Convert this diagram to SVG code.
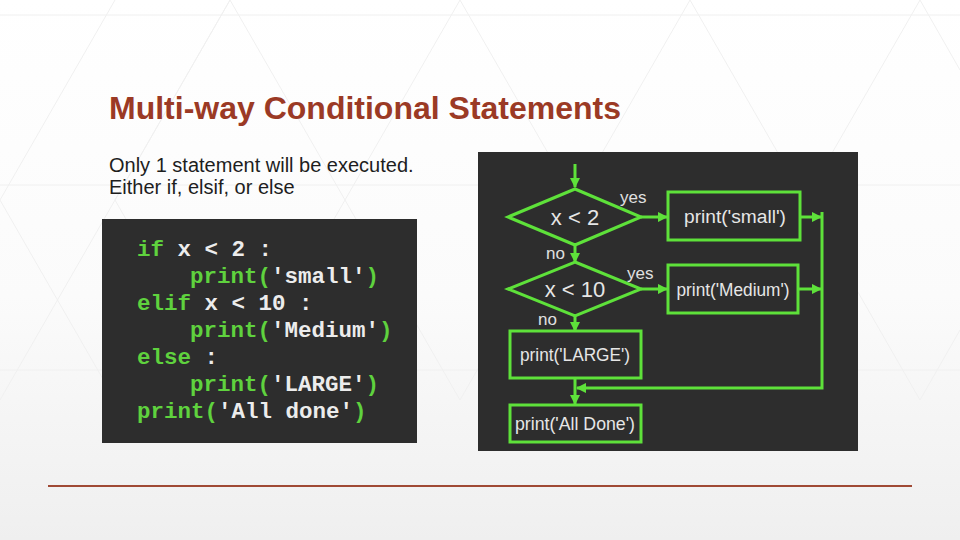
<svg xmlns="http://www.w3.org/2000/svg" width="960" height="540" viewBox="0 0 960 540">
<defs>
<linearGradient id="bg" x1="0" y1="0" x2="0" y2="1">
<stop offset="0" stop-color="#ffffff"/>
<stop offset="0.55" stop-color="#fbfbfb"/>
<stop offset="1" stop-color="#efefef"/>
</linearGradient>
<marker id="ah" viewBox="0 0 10 10" refX="9" refY="5" markerWidth="3.5" markerHeight="3.5" orient="auto" markerUnits="strokeWidth">
<path d="M0,0 L10,5 L0,10 z" fill="#5ee13a"/>
</marker>
<style>
.grid{stroke:#f0f0f0;stroke-width:1;fill:none}
.title{font-family:"Liberation Sans",Arial,sans-serif;font-weight:bold;font-size:32px;fill:#9b3a25}
.body{font-family:"Liberation Sans",Arial,sans-serif;font-size:20px;fill:#1e1e1e}
.panel{fill:#2d2d2d}
.code{font-family:"Liberation Mono","Courier New",monospace;font-weight:bold;font-size:22.5px;white-space:pre}
.kw{fill:#5fd23e}
.wt{fill:#ececec}
.shape{fill:none;stroke:#5ee13a;stroke-width:3}
.fl{font-family:"Liberation Sans",Arial,sans-serif;font-size:18px;fill:#e6e6e6;text-anchor:middle}
.big{font-size:22px}
.lab{font-family:"Liberation Sans",Arial,sans-serif;font-size:17px;fill:#e0e0e0}
.conn{stroke:#5ee13a;stroke-width:3;fill:none}
</style>
</defs>
<rect width="960" height="540" fill="url(#bg)"/>
<g class="grid">
<line x1="0" y1="15" x2="960" y2="15"/>
<line x1="0" y1="185" x2="960" y2="185"/>
<line x1="0" y1="370" x2="960" y2="370"/>
<line x1="0" y1="525" x2="960" y2="525"/>
<path d="M0,200 L115,0 M0,200 L115,400 M230,0 L0,400 M230,0 L345,200 L230,400 L115,200 L230,0 M460,0 L345,200 L460,400 L575,200 L460,0 M690,0 L575,200 L690,400 L805,200 L690,0 M920,0 L805,200 L920,400 L960,330 M960,70 L920,0"/>
</g>

<g id="title"><text class="title" x="109" y="119">Multi-way Conditional Statements</text></g>
<g id="subtitle">
<text class="body" x="109" y="172">Only 1 statement will be executed.</text>
<text class="body" x="109" y="194">Either if, elsif, or else</text>
</g>

<g id="code-panel">
<rect class="panel" x="102" y="219" width="315" height="224"/>
<text class="code" x="137" y="256"><tspan class="kw">if</tspan><tspan class="wt"> x &lt; 2 :</tspan></text>
<text class="code" x="190" y="283"><tspan class="kw">print(</tspan><tspan class="wt">'small'</tspan><tspan class="kw">)</tspan></text>
<text class="code" x="137" y="310"><tspan class="kw">elif</tspan><tspan class="wt"> x &lt; 10 :</tspan></text>
<text class="code" x="190" y="337"><tspan class="kw">print(</tspan><tspan class="wt">'Medium'</tspan><tspan class="kw">)</tspan></text>
<text class="code" x="137" y="364"><tspan class="kw">else</tspan><tspan class="wt"> :</tspan></text>
<text class="code" x="190" y="391"><tspan class="kw">print(</tspan><tspan class="wt">'LARGE'</tspan><tspan class="kw">)</tspan></text>
<text class="code" x="137" y="418"><tspan class="kw">print(</tspan><tspan class="wt">'All done'</tspan><tspan class="kw">)</tspan></text>
</g>

<g id="flow-panel"><rect class="panel" x="478" y="152" width="380" height="299"/></g>

<g id="connectors">
<line class="conn" x1="575" y1="164" x2="575" y2="187" marker-end="url(#ah)"/>
<line class="conn" x1="641" y1="217" x2="667" y2="217" marker-end="url(#ah)"/>
<line class="conn" x1="575" y1="245" x2="575" y2="262" marker-end="url(#ah)"/>
<line class="conn" x1="641" y1="289" x2="667" y2="289" marker-end="url(#ah)"/>
<line class="conn" x1="575" y1="316" x2="575" y2="331" marker-end="url(#ah)"/>
<line class="conn" x1="575" y1="378" x2="575" y2="404" marker-end="url(#ah)"/>
<line class="conn" x1="800" y1="217" x2="821" y2="217" marker-end="url(#ah)"/>
<line class="conn" x1="798" y1="289" x2="821" y2="289" marker-end="url(#ah)"/>
<polyline class="conn" points="822,212 822,388 577,388" marker-end="url(#ah)"/>
<text class="lab" x="620" y="203">yes</text>
<text class="lab" x="546" y="259">no</text>
<text class="lab" x="627" y="279">yes</text>
<text class="lab" x="538" y="325">no</text>
</g>

<g id="cond1">
<polygon class="shape" points="575,189 641,217 575,245 508,217"/>
<text class="fl big" x="575" y="225">x &lt; 2</text>
</g>
<g id="small">
<rect class="shape" x="668" y="192" width="132" height="48"/>
<text class="fl" x="735" y="223" textLength="102" lengthAdjust="spacingAndGlyphs">print('small')</text>
</g>
<g id="cond2">
<polygon class="shape" points="575,262 641,289 575,316 508,289"/>
<text class="fl big" x="575" y="297">x &lt; 10</text>
</g>
<g id="medium">
<rect class="shape" x="668" y="265" width="130" height="48"/>
<text class="fl" x="733" y="296" textLength="113" lengthAdjust="spacingAndGlyphs">print('Medium')</text>
</g>
<g id="large">
<rect class="shape" x="510" y="331" width="131" height="47"/>
<text class="fl" x="575" y="361" textLength="110" lengthAdjust="spacingAndGlyphs">print('LARGE')</text>
</g>
<g id="alldone">
<rect class="shape" x="510" y="405" width="131" height="37"/>
<text class="fl" x="575" y="430" textLength="120" lengthAdjust="spacingAndGlyphs">print('All Done')</text>
</g>

<g id="rule"><line x1="48" y1="486" x2="912" y2="486" stroke="#a04a35" stroke-width="2"/></g>
</svg>
